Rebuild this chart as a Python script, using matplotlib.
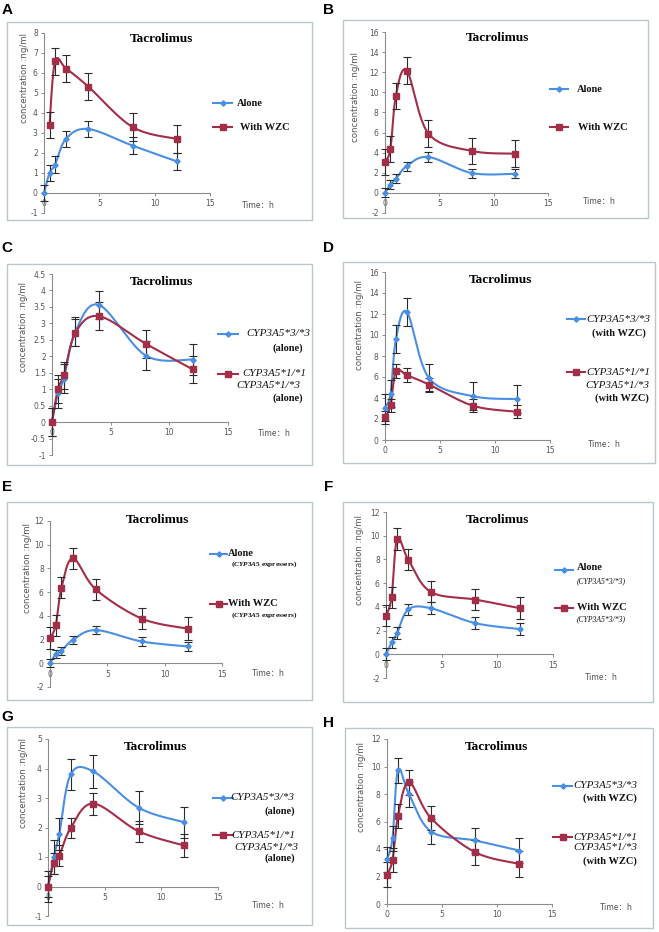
import numpy as np
import matplotlib
matplotlib.use("Agg")
import matplotlib.pyplot as plt
from matplotlib.patches import Rectangle
from matplotlib.lines import Line2D

plt.rcParams['mathtext.fontset'] = 'custom'
plt.rcParams['mathtext.it'] = 'Liberation Serif:italic:bold'
plt.rcParams['mathtext.rm'] = 'Liberation Serif:bold'

# sampling times (h)
times = [0, 0.5, 1, 2, 4, 8, 12]
times_a_wzc = [0.5, 1, 2, 4, 8, 12]

# A: all patients
a_alone = [0, 1.0, 1.42, 2.72, 3.2, 2.37, 1.58]
a_alone_err = [0.38, 0.42, 0.41, 0.4, 0.42, 0.41, 0.42]
a_wzc = [3.42, 6.58, 6.22, 5.32, 3.3, 2.7]
a_wzc_err = [0.65, 0.67, 0.66, 0.67, 0.7, 0.7]

# B: CYP3A5*3/*3 patients
b_alone = [0, 0.83, 1.4, 2.67, 3.57, 1.97, 1.9]
b_alone_err = [0.45, 0.45, 0.45, 0.45, 0.45, 0.45, 0.45]
b_wzc = [3.07, 4.4, 9.63, 12.17, 5.9, 4.17, 3.9]
b_wzc_err = [1.3, 1.3, 1.3, 1.33, 1.3, 1.33, 1.33]

# C: alone, by genotype
c_33 = [0, 0.87, 1.32, 2.75, 3.56, 2.02, 1.9]
c_33_err = [0.43, 0.44, 0.44, 0.43, 0.43, 0.44, 0.46]
c_1x = [0, 1.0, 1.42, 2.72, 3.22, 2.38, 1.6]
c_1x_err = [0.42, 0.42, 0.42, 0.42, 0.42, 0.42, 0.42]

# D: with WZC, by genotype
d_33 = [3.07, 4.4, 9.63, 12.17, 5.9, 4.17, 3.9]
d_33_err = [1.3, 1.3, 1.3, 1.33, 1.3, 1.33, 1.33]
d_1x = [2.15, 3.3, 6.55, 6.17, 5.28, 3.26, 2.69]
d_1x_err = [0.6, 0.6, 0.65, 0.65, 0.65, 0.6, 0.6]

# E: CYP3A5 expressers
e_alone = [0, 0.76, 1.05, 1.98, 2.8, 1.84, 1.42]
e_alone_err = [0.35, 0.35, 0.35, 0.35, 0.35, 0.35, 0.38]
e_wzc = [2.12, 3.2, 6.37, 8.85, 6.23, 3.77, 2.92]
e_wzc_err = [0.9, 0.9, 0.9, 0.9, 0.9, 0.9, 0.95]

# F: CYP3A5*3/*3
f_alone = [0, 1.0, 1.79, 3.78, 3.89, 2.63, 2.13]
f_alone_err = [0.5, 0.5, 0.5, 0.5, 0.5, 0.5, 0.5]
f_wzc = [3.25, 4.79, 9.72, 7.98, 5.27, 4.62, 3.89]
f_wzc_err = [0.9, 0.9, 0.9, 0.9, 0.9, 0.9, 0.9]

# G: alone, by genotype
g_33 = [0, 0.99, 1.79, 3.8, 3.9, 2.67, 2.18]
g_33_err = [0.53, 0.57, 0.54, 0.52, 0.55, 0.56, 0.52]
g_1x = [0, 0.79, 1.05, 1.98, 2.81, 1.87, 1.39]
g_1x_err = [0.35, 0.35, 0.35, 0.34, 0.37, 0.35, 0.38]

# H: with WZC, by genotype
h_33 = [3.25, 4.79, 9.72, 7.98, 5.27, 4.62, 3.89]
h_33_err = [0.9, 0.9, 0.9, 0.9, 0.9, 0.9, 0.9]
h_1x = [2.12, 3.2, 6.4, 8.85, 6.25, 3.77, 2.92]
h_1x_err = [0.9, 0.9, 0.9, 0.9, 0.9, 0.9, 0.95]

BLUE = '#4a8fe3'
RED = '#a32e48'
W, H = 659, 932


def smooth(x, y, n=24):
    # excel-like smoothed line (catmull-rom as bezier)
    p = np.column_stack([x, y]).astype(float)
    p = np.vstack([p[0], p, p[-1]])
    t = np.linspace(0, 1, n)[:, None]
    out = []
    for i in range(1, len(p) - 2):
        p0, p1, p2, p3 = p[i - 1], p[i], p[i + 1], p[i + 2]
        c1 = p1 + (p2 - p0) / 6
        c2 = p2 - (p3 - p1) / 6
        out.append((1 - t) ** 3 * p1 + 3 * (1 - t) ** 2 * t * c1
                   + 3 * (1 - t) * t ** 2 * c2 + t ** 3 * p2)
    return np.vstack(out)


def fx(px):
    return px / W


def fy(py):
    return 1 - py / H


# panel layouts (pixel positions)
panels = [
    dict(tag='A', box=(7, 22, 312, 220), ax=(44, 210, 33, 213), ylim=(-1, 8), step=1,
         series=[(times, a_alone, a_alone_err, 'b'), (times_a_wzc, a_wzc, a_wzc_err, 'r')],
         title=(161, 39), ylab=(25, 78), timelab=(242, 205),
         legend=[(103, 213, 232, [("Alone", 237, 103, 'left', 'b')]),
                 (127, 213, 232, [("With WZC", 240, 127, 'left', 'b')])]),
    dict(tag='B', box=(343, 20, 648, 218), ax=(385, 548, 32, 213), ylim=(-2, 16), step=2,
         series=[(times, b_alone, b_alone_err, 'b'), (times, b_wzc, b_wzc_err, 'r')],
         title=(497, 38), ylab=(355, 97), timelab=(583, 202),
         legend=[(89, 550, 568, [("Alone", 577, 89, 'left', 'b')]),
                 (127, 550, 568, [("With WZC", 578, 127, 'left', 'b')])]),
    dict(tag='C', box=(7, 264, 312, 465), ax=(52, 228, 274, 455), ylim=(-1, 4.5), step=0.5,
         series=[(times, c_33, c_33_err, 'b'), (times, c_1x, c_1x_err, 'r')],
         title=(161, 282), ylab=(23, 327), timelab=(258, 433),
         legend=[(334, 218, 238, [("CYP3A5*3/*3", 310, 334, 'right', 'i'),
                                  ("(alone)", 303, 348, 'right', 'b')]),
                 (374, 218, 238, [("CYP3A5*1/*1", 306, 374, 'right', 'i'),
                                  ("CYP3A5*1/*3", 300, 386, 'right', 'i'),
                                  ("(alone)", 303, 398, 'right', 'b')])]),
    dict(tag='D', box=(343, 262, 655, 463), ax=(385, 550, 272, 440), ylim=(0, 16), step=2,
         series=[(times, d_33, d_33_err, 'b'), (times, d_1x, d_1x_err, 'r')],
         title=(500, 280), ylab=(360, 325), timelab=(588, 445),
         legend=[(319, 567, 585, [("CYP3A5*3/*3", 650, 319, 'right', 'i'),
                                  ("(with WZC)", 646, 333, 'right', 'b')]),
                 (372, 567, 585, [("CYP3A5*1/*1", 650, 372, 'right', 'i'),
                                  ("CYP3A5*1/*3", 649, 385, 'right', 'i'),
                                  ("(with WZC)", 649, 398, 'right', 'b')])]),
    dict(tag='E', box=(7, 502, 312, 700), ax=(50, 222, 521, 687), ylim=(-2, 12), step=2,
         series=[(times, e_alone, e_alone_err, 'b'), (times, e_wzc, e_wzc_err, 'r')],
         title=(157, 520), ylab=(27, 568), timelab=(252, 673),
         legend=[(554, 210, 227, [("Alone", 228, 554, 'left', 'b'),
                                  (r"($\mathit{CYP3A5}$ expressers)", 231, 564, 'left', 's')]),
                 (604, 210, 227, [("With WZC", 228, 604, 'left', 'b'),
                                  (r"($\mathit{CYP3A5}$ expressers)", 231, 615, 'left', 's')])]),
    dict(tag='F', box=(343, 502, 653, 702), ax=(386, 553, 512, 678), ylim=(-2, 12), step=2,
         series=[(times, f_alone, f_alone_err, 'b'), (times, f_wzc, f_wzc_err, 'r')],
         title=(497, 520), ylab=(360, 560), timelab=(585, 677),
         legend=[(570, 555, 573, [("Alone", 577, 568, 'left', 'b'),
                                  ("(CYP3A5*3/*3)", 577, 581, 'left', 'si')]),
                 (608, 555, 573, [("With WZC", 577, 607, 'left', 'b'),
                                  ("(CYP3A5*3/*3)", 577, 619, 'left', 'si')])]),
    dict(tag='G', box=(7, 727, 312, 925), ax=(48, 218, 739, 916), ylim=(-1, 5), step=1,
         series=[(times, g_33, g_33_err, 'b'), (times, g_1x, g_1x_err, 'r')],
         title=(156, 747), ylab=(23, 783), timelab=(252, 905),
         legend=[(798, 213, 233, [("CYP3A5*3/*3", 294, 798, 'right', 'i'),
                                  ("(alone)", 295, 811, 'right', 'b')]),
                 (835, 213, 233, [("CYP3A5*1/*1", 295, 835, 'right', 'i'),
                                  ("CYP3A5*1/*3", 298, 847, 'right', 'i'),
                                  ("(alone)", 295, 858, 'right', 'b')])]),
    dict(tag='H', box=(345, 728, 653, 928), ax=(387, 552, 739, 904), ylim=(0, 12), step=2,
         series=[(times, h_33, h_33_err, 'b'), (times, h_1x, h_1x_err, 'r')],
         title=(496, 747), ylab=(362, 787), timelab=(600, 907),
         legend=[(786, 553, 572, [("CYP3A5*3/*3", 637, 786, 'right', 'i'),
                                  ("(with WZC)", 637, 798, 'right', 'b')]),
                 (837, 553, 572, [("CYP3A5*1/*1", 637, 837, 'right', 'i'),
                                  ("CYP3A5*1/*3", 637, 848, 'right', 'i'),
                                  ("(with WZC)", 637, 861, 'right', 'b')])]),
]

label_pos = {'A': (7, 10), 'B': (329, 10), 'C': (7, 248), 'D': (329, 248),
             'E': (7, 487), 'F': (329, 487), 'G': (7, 717), 'H': (329, 723)}

text_styles = {
    'b': dict(family='Liberation Serif', weight='bold', size=7.5),
    'i': dict(family='Liberation Serif', style='italic', size=8),
    's': dict(family='Liberation Serif', weight='bold', size=5.2),
    'si': dict(family='Liberation Serif', style='italic', size=5.5),
}

fig = plt.figure(figsize=(W / 100, H / 100), dpi=100)

for p in panels:
    bx0, by0, bx1, by1 = p['box']
    fig.patches.append(Rectangle((fx(bx0), fy(by1)), fx(bx1) - fx(bx0), fy(by0) - fy(by1),
                                 transform=fig.transFigure, fill=False,
                                 edgecolor='#b9c7cb', lw=1.0))
    lx, ly = label_pos[p['tag']]
    fig.text(fx(lx), fy(ly), p['tag'], ha='center', va='center',
             family='Liberation Sans', weight='bold', fontsize=11)

    x0, x1, yt, yb = p['ax']
    ax = fig.add_axes([fx(x0), fy(yb), fx(x1) - fx(x0), fy(yt) - fy(yb)])
    ax.set_xlim(0, 15)
    ax.set_ylim(*p['ylim'])
    ax.patch.set_alpha(0)
    for s in ['top', 'right']:
        ax.spines[s].set_visible(False)
    ax.spines['bottom'].set_position(('data', 0))
    for s in ['left', 'bottom']:
        ax.spines[s].set_color('#8c8c8c')
        ax.spines[s].set_linewidth(0.8)
    ax.set_xticks([0, 5, 10, 15])
    ax.set_yticks(np.arange(p['ylim'][0], p['ylim'][1] + 0.01, p['step']))
    ax.yaxis.set_major_formatter(plt.FuncFormatter(lambda v, pos: '{:g}'.format(v)))
    ax.tick_params(direction='out', length=2.5, width=0.7, color='#8c8c8c',
                   labelsize=5.5, labelcolor='#555555', pad=2)
    for lab in ax.get_xticklabels() + ax.get_yticklabels():
        lab.set_family('DejaVu Sans')

    for tx, ty, te, c in p['series']:
        col = BLUE if c == 'b' else RED
        curve = smooth(tx, ty)
        ax.plot(curve[:, 0], curve[:, 1], color=col, lw=1.5, clip_on=False, zorder=2)
        ax.errorbar(tx, ty, yerr=te, fmt='none', ecolor='#2b2b2b', elinewidth=0.8,
                    capsize=3, capthick=0.8, clip_on=False, zorder=3)
        if c == 'b':
            ax.plot(tx, ty, 'D', ms=2.7, color=col, mec=col, clip_on=False, zorder=4)
        else:
            ax.plot(tx, ty, 's', ms=4.6, color=col, mec=col, clip_on=False, zorder=4)

    tx_, ty_ = p['title']
    fig.text(fx(tx_), fy(ty_), 'Tacrolimus', ha='center', va='center',
             family='Liberation Serif', weight='bold', fontsize=9.5)
    yx, yy = p['ylab']
    fig.text(fx(yx), fy(yy), 'concentration :ng/ml', rotation=90, ha='center', va='center',
             family='DejaVu Sans', fontsize=6.2, color='#555555')
    tlx, tly = p['timelab']
    fig.text(fx(tlx), fy(tly), 'Time\uff1ah', ha='left', va='center',
             family=['Noto Sans CJK SC', 'DejaVu Sans'], fontsize=6, color='#555555')

    for (sy, sx0, sx1, lines), (tx, ty, te, c) in zip(p['legend'], p['series']):
        col = BLUE if c == 'b' else RED
        fig.add_artist(Line2D([fx(sx0), fx(sx1)], [fy(sy), fy(sy)], color=col, lw=1.5,
                              transform=fig.transFigure))
        mk = 'D' if c == 'b' else 's'
        ms = 2.7 if c == 'b' else 4.6
        fig.add_artist(Line2D([fx((sx0 + sx1) / 2)], [fy(sy)], marker=mk, ms=ms, color=col,
                              transform=fig.transFigure))
        for txt, lx_, ly_, ha, st in lines:
            fig.text(fx(lx_), fy(ly_), txt, ha=ha, va='center', color='#111111',
                     **text_styles[st])

fig.savefig('out.png', dpi=100)
